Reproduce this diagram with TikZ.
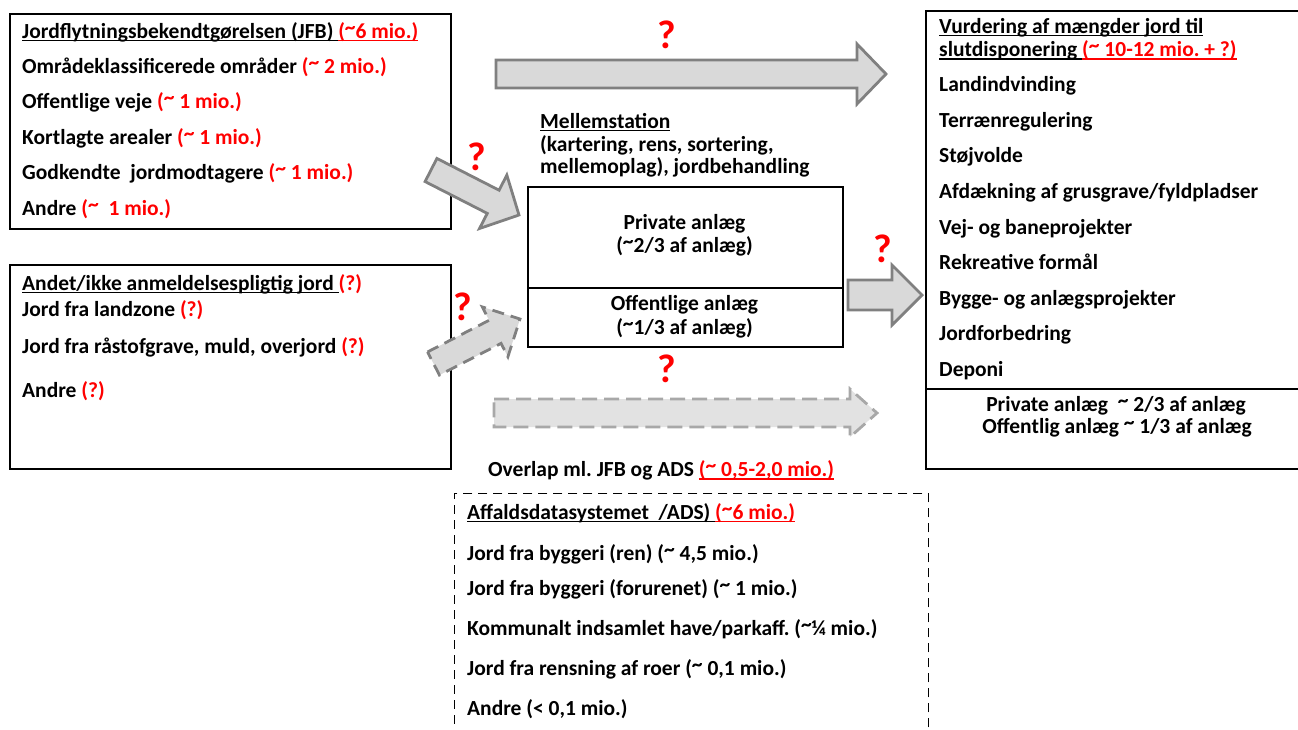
\documentclass[tikz,border=0pt]{standalone}
\usepackage{fontspec}
\setmainfont{Carlito}
\usetikzlibrary{calc}
\frenchspacing

\definecolor{arrowfill}{HTML}{D9D9D9}
\definecolor{arrowline}{HTML}{808080}
\definecolor{lightfill}{HTML}{E2E2E2}
\definecolor{lightline}{HTML}{A8A8A8}
\definecolor{qred}{HTML}{FF0000}

% tilde as printed, and an underline at a fixed depth
\newcommand{\apx}{\raisebox{0.18em}{\textasciitilde}}
\newcommand{\undl}[1]{\setbox0=\hbox{#1}\rlap{\rule[-2.8pt]{\wd0}{1.3pt}}\box0}

% block arrow: [style]{tail}{tip}{shaft half width}{head half width}{head length}
\newcommand{\fatarrow}[6][]{%
  \draw[#1] ($(#2)!#4!90:(#3)$) -- ($(#3)!#6!(#2)!#4!-90:(#2)$)
    -- ($(#3)!#6!(#2)!#5!-90:(#2)$) -- (#3)
    -- ($(#3)!#6!(#2)!#5!90:(#2)$) -- ($(#3)!#6!(#2)!#4!90:(#2)$)
    -- ($(#2)!#4!-90:(#3)$) -- cycle;}

\tikzset{
  box/.style={draw, line width=2pt, inner sep=0pt},
  txt/.style={anchor=base west, inner sep=0pt, font=\bfseries\fontsize{21.5}{24}\selectfont},
  ctxt/.style={txt, anchor=base},
  qmark/.style={anchor=base, inner sep=0pt, text=qred, font=\bfseries\fontsize{40}{44}\selectfont},
  fat/.style={fill=arrowfill, draw=arrowline, line width=2.8pt, line join=miter},
  fatdash/.style={fat, dash pattern=on 12pt off 7pt},
  fatlight/.style={fill=lightfill, draw=lightline, line width=2.8pt, dash pattern=on 15pt off 7pt}
}

\begin{document}
\begin{tikzpicture}[x=1pt, y=-1pt]
    \useasboundingbox (0,0) rectangle (1298,729);
    \clip (0,0) rectangle (1298,729);

    % Boxes
    \node[box, anchor=north west, minimum width=441, minimum height=215] (jfb) at (9,13) {};
    \node[box, anchor=north west, minimum width=441, minimum height=204] (andet) at (9,264) {};
    \node[box, anchor=north west, minimum width=315, minimum height=160] (mell) at (527,186) {};
    \draw[line width=2pt] (527,287.5) -- (842,287.5);
    \node[box, anchor=north west, minimum width=400, minimum height=458] (vurd) at (925,10) {};
    \draw[line width=2pt] (925,388.5) -- (1310,388.5);
    \node[box, anchor=north west, minimum width=474, minimum height=300,
          line width=1.5pt, dash pattern=on 9pt off 6pt] (ads) at (453.5,492.5) {};

    % Jordflytningsbekendtgoerelsen
    \node[txt] (jfbhead) at (22,38) {\undl{Jordflytningsbekendtgørelsen (JFB) }\textcolor{qred}{\undl{(\apx6 mio.)}}};
    \node[txt] (jfb1) at (22,73) {Områdeklassificerede områder \textcolor{qred}{(\apx{} 2 mio.)}};
    \node[txt] (jfb2) at (22,108.5) {Offentlige veje \textcolor{qred}{(\apx{} 1 mio.)}};
    \node[txt] (jfb3) at (22,144) {Kortlagte arealer \textcolor{qred}{(\apx{} 1 mio.)}};
    \node[txt] (jfb4) at (22,179.5) {Godkendte\ \ jordmodtagere \textcolor{qred}{(\apx{} 1 mio.)}};
    \node[txt] (jfb5) at (22,215) {Andre \textcolor{qred}{(\apx\ \ 1 mio.)}};

    % Andet / ikke anmeldelsespligtig
    \node[txt] (andethead) at (22,290.5) {\undl{Andet/ikke anmeldelsespligtig jord }\textcolor{qred}{(?)}};
    \node[txt] (andet1) at (22,316.5) {Jord fra landzone \textcolor{qred}{(?)}};
    \node[txt] (andet2) at (22,353) {Jord fra råstofgrave, muld, overjord \textcolor{qred}{(?)}};
    \node[txt] (andet3) at (22,397) {Andre \textcolor{qred}{(?)}};

    % Mellemstation
    \node[txt] (mellhead) at (540,128) {\undl{Mellemstation}};
    \node[txt] (mell1) at (540,151.5) {(kartering, rens, sortering,};
    \node[txt] (mell2) at (540,173) {mellemoplag), jordbehandling};
    \node[ctxt] (priv1) at (684.5,229) {Private anlæg};
    \node[ctxt] (priv2) at (684.5,252.5) {(\apx2/3 af anlæg)};
    \node[ctxt] (off1) at (684.5,310.5) {Offentlige anlæg};
    \node[ctxt] (off2) at (684.5,334) {(\apx1/3 af anlæg)};

    % Vurdering / slutdisponering
    \node[txt] (vurdhead1) at (939,33.3) {\undl{Vurdering af mængder jord til}};
    \node[txt] (vurdhead2) at (939,56.7) {\undl{slutdisponering }\textcolor{qred}{\undl{(\apx{} 10-12 mio. + ?)}}};
    \node[txt] (vurd1) at (939,91.7) {Landindvinding};
    \node[txt] (vurd2) at (939,127.3) {Terrænregulering};
    \node[txt] (vurd3) at (939,162.7) {Støjvolde};
    \node[txt] (vurd4) at (939,198.3) {Afdækning af grusgrave/fyldpladser};
    \node[txt] (vurd5) at (939,234) {Vej- og baneprojekter};
    \node[txt] (vurd6) at (939,269.3) {Rekreative formål};
    \node[txt] (vurd7) at (939,305) {Bygge- og anlægsprojekter};
    \node[txt] (vurd8) at (939,340.7) {Jordforbedring};
    \node[txt] (vurd9) at (939,376) {Deponi};
    \node[ctxt] (vurdpriv) at (1116,411.7) {Private anlæg\ \ \apx{} 2/3 af anlæg};
    \node[ctxt] (vurdoff) at (1117,433.3) {Offentlig anlæg \apx{} 1/3 af anlæg};

    % Overlap and Affaldsdatasystemet
    \node[txt] (overlap) at (488,476.7) {Overlap ml. JFB og ADS \textcolor{qred}{\undl{(\apx{} 0,5-2,0 mio.)}}};
    \node[txt] (adshead) at (467,519.3) {\undl{Affaldsdatasystemet\ \ /ADS) }\textcolor{qred}{\undl{(\apx6 mio.)}}};
    \node[txt] (ads1) at (467,560) {Jord fra byggeri (ren) (\apx{} 4,5 mio.)};
    \node[txt] (ads2) at (467,595.7) {Jord fra byggeri (forurenet) (\apx{} 1 mio.)};
    \node[txt] (ads3) at (467,635.7) {Kommunalt indsamlet have/parkaff. (\apx¼ mio.)};
    \node[txt] (ads4) at (467,675.7) {Jord fra rensning af roer (\apx{} 0,1 mio.)};
    \node[txt] (ads5) at (467,715) {Andre (< 0,1 mio.)};

    % Block arrows
    \coordinate (toptail) at (496,74);   \coordinate (toptip) at (886,74);
    \coordinate (jfbtail) at (431,170);  \coordinate (jfbtip) at (519,215);
    \coordinate (andtail) at (433.5,363.5); \coordinate (andtip) at (520,319);
    \coordinate (outtail) at (848,295);  \coordinate (outtip) at (922,295);
    \coordinate (adstail) at (494,413);  \coordinate (adstip) at (877,413);
    \fatarrow[fat]{toptail}{toptip}{14pt}{30pt}{29pt}
    \fatarrow[fat]{jfbtail}{jfbtip}{13pt}{30pt}{29pt}
    \fatarrow[fatdash]{andtail}{andtip}{13pt}{28pt}{28pt}
    \fatarrow[fat]{outtail}{outtip}{15pt}{30pt}{30pt}
    \fatarrow[fatlight]{adstail}{adstip}{14pt}{24pt}{27pt}

    % Question marks
    \node[qmark] (q1) at (667,48) {?};
    \node[qmark] (q2) at (477,170) {?};
    \node[qmark] (q3) at (883,262) {?};
    \node[qmark] (q4) at (463,320) {?};
    \node[qmark] (q5) at (667,382) {?};
\end{tikzpicture}
\end{document}
